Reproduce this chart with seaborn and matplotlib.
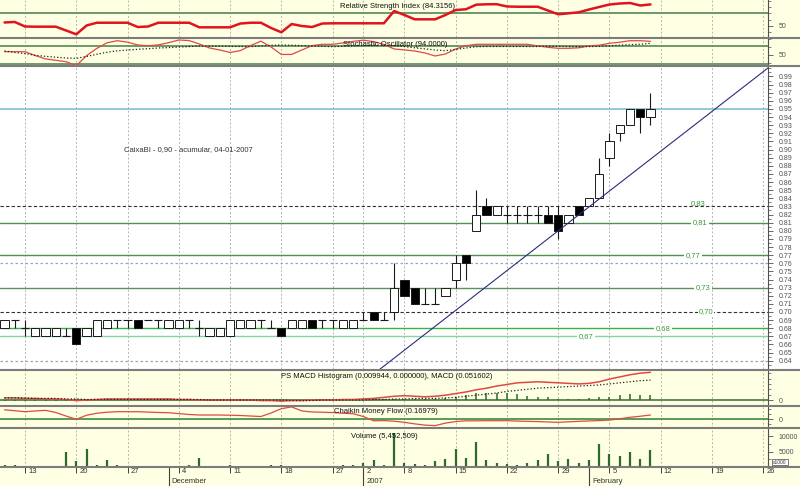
import matplotlib

matplotlib.use("Agg")
import matplotlib.pyplot as plt
import matplotlib.transforms as mtransforms
from matplotlib.lines import Line2D
from matplotlib.patches import Rectangle
from matplotlib.ticker import FixedLocator, FormatStrFormatter, MultipleLocator
import numpy as np
import pandas as pd
import seaborn as sns

# ---- data (one value per trading day, 9 Nov 2006 .. 9 Feb 2007)
START = "2006-11-09"
END = "2007-03-02"
HOLIDAYS = ["2006-12-25", "2006-12-26", "2007-01-01"]

OPEN = [.68, .69, .68, .67, .67, .67, .67, .68, .67, .67, .68, .69, .69, .69, .69, .69,
        .68, .68, .69, .68, .67, .67, .67, .68, .68, .69, .68, .68, .68, .68, .69, .69,
        .69, .68, .68, .69, .70, .69, .70, .74, .73, .71, .71, .72, .74, .77, .80, .83,
        .82, .82, .82, .82, .82, .82, .82, .81, .83, .83, .84, .89, .92, .93, .95, .94]
HIGH = [.69, .69, .69, .68, .68, .68, .68, .68, .68, .69, .69, .69, .69, .69, .69, .69,
        .69, .69, .69, .69, .68, .68, .69, .69, .69, .69, .69, .68, .69, .69, .69, .69,
        .69, .69, .69, .70, .70, .70, .76, .74, .73, .73, .73, .73, .77, .77, .85, .84,
        .83, .83, .83, .83, .83, .83, .83, .82, .83, .84, .89, .92, .93, .95, .95, .97]
LOW = [.68, .68, .67, .67, .67, .67, .67, .66, .67, .67, .68, .68, .68, .68, .69, .68,
       .68, .68, .68, .67, .67, .67, .67, .68, .68, .68, .68, .67, .68, .68, .68, .68,
       .68, .68, .68, .69, .69, .69, .69, .72, .71, .71, .71, .72, .73, .74, .80, .82,
       .82, .81, .81, .81, .81, .81, .79, .81, .82, .83, .84, .88, .91, .93, .92, .93]
CLOSE = [.69, .69, .68, .68, .68, .68, .67, .66, .68, .69, .69, .69, .69, .68, .69, .69,
         .69, .69, .69, .68, .68, .68, .69, .69, .69, .69, .68, .67, .69, .69, .68, .69,
         .69, .69, .69, .69, .69, .69, .73, .72, .71, .71, .71, .73, .76, .76, .82, .82,
         .83, .82, .82, .82, .82, .81, .80, .82, .82, .84, .87, .91, .93, .95, .94, .95]

VOLUME = [700, 800, 300, 200, 250, 300, 4800, 1900, 5900, 500, 2400, 700, 200, 300,
          250, 200, 250, 300, 700, 3000, 300, 250, 700, 200, 300, 250, 700, 500, 300,
          250, 400, 200, 300, 500, 700, 1250, 2300, 700, 11000, 1250, 900, 700, 2000,
          2700, 5900, 3000, 8100, 2300, 1250, 1000, 700, 1250, 2300, 4300, 2000, 2700,
          1250, 2300, 7500, 4300, 3500, 4800, 2700, 5453]

RSI = [55.2, 56.0, 48.7, 48.4, 48.4, 48.4, 42.3, 36.1, 50.3, 54.8, 54.8, 54.8, 54.8,
       47.9, 48.7, 54.8, 54.8, 54.8, 54.8, 47.4, 47.4, 47.4, 47.4, 53.5, 54.8, 54.8,
       46.3, 39.4, 52.7, 49.5, 47.9, 53.5, 53.9, 53.9, 53.9, 53.9, 53.9, 53.9, 73.7,
       67.3, 60.3, 60.3, 60.3, 67.3, 75.3, 76.5, 83.9, 84.5, 84.7, 81.0, 80.6, 80.6,
       80.6, 74.5, 68.4, 70.0, 71.6, 76.1, 80.2, 84.2, 85.8, 86.6, 82.6, 84.3]

STOCH_K = [60.6, 60.6, 60.6, 48.1, 37.4, 32.9, 28.4, 15.5, 47.7, 71.3, 89.4, 96.1, 91.3,
           82.3, 79.7, 82.6, 89.7, 98.4, 96.5, 85.5, 72.6, 66.1, 58.1, 64.2, 80.6, 94.5,
           75.8, 51.6, 51.9, 66.1, 80.3, 84.5, 84.5, 88.7, 93.9, 97.7, 93.2, 84.2, 69.4,
           66.5, 62.9, 56.5, 46.8, 53.2, 69.4, 79.7, 84.5, 84.5, 84.5, 84.5, 84.5, 84.5,
           79.4, 74.8, 71.6, 71.6, 73.2, 79.4, 81.6, 87.7, 91.3, 96.1, 96.1, 94.0]
STOCH_D = [63.1, 58.4, 54.5, 49.0, 45.8, 42.8, 40.3, 39.3, 45.2, 52.3, 58.7, 63.5, 66.1,
           68.4, 70.3, 72.6, 73.9, 75.5, 77.1, 78.7, 78.7, 78.4, 77.7, 77.4, 76.8, 79.4,
           81.3, 82.3, 81.3, 80.3, 79.0, 78.1, 76.8, 78.1, 79.4, 80.6, 81.6, 81.9, 79.7,
           77.1, 73.2, 69.7, 66.1, 63.9, 67.7, 72.6, 76.8, 77.4, 77.4, 77.4, 77.4, 77.4,
           77.4, 78.4, 78.1, 77.1, 77.1, 77.1, 77.7, 79.7, 81.6, 82.9, 84.8, 87.7]

MACD = [0.004, 0.004, 0.003, 0.003, 0.002, 0.002, 0.001, -0.001, 0.0, 0.001, 0.002,
        0.002, 0.002, 0.002, 0.002, 0.002, 0.002, 0.001, 0.001, 0.0, 0.0, 0.0, 0.0,
        0.0, 0.0, -0.001, -0.001, -0.002, -0.001, -0.001, 0.0, 0.0, 0.0, 0.001, 0.001,
        0.002, 0.003, 0.005, 0.007, 0.008, 0.007, 0.006, 0.007, 0.009, 0.012, 0.015,
        0.019, 0.022, 0.026, 0.029, 0.032, 0.033, 0.034, 0.033, 0.032, 0.031, 0.030,
        0.031, 0.034, 0.039, 0.043, 0.047, 0.050, 0.0516]
MACD_SIGNAL = [0.004, 0.004, 0.004, 0.003, 0.003, 0.003, 0.002, 0.002, 0.001, 0.001,
               0.001, 0.001, 0.001, 0.001, 0.001, 0.001, 0.001, 0.001, 0.001, 0.001,
               0.0, 0.0, 0.0, 0.0, 0.0, 0.0, 0.0, 0.0, -0.001, -0.001, -0.001, 0.0, 0.0,
               0.0, 0.0, 0.0, 0.001, 0.001, 0.002, 0.002, 0.003, 0.003, 0.003, 0.004,
               0.005, 0.007, 0.009, 0.011, 0.013, 0.016, 0.018, 0.020, 0.022, 0.023,
               0.024, 0.025, 0.026, 0.027, 0.028, 0.030, 0.032, 0.034, 0.036, 0.037]
MACD_HIST = [-0.001, -0.001, -0.0015, -0.001, -0.001, -0.0015, -0.001, -0.002, -0.001,
             0.0005, 0.001, 0.001, 0.001, 0.001, 0.001, 0.001, 0.001, 0.0005, 0.0005,
             -0.0005, -0.0005, -0.0005, -0.0005, -0.0005, -0.0005, -0.001, -0.001,
             -0.0015, -0.0005, -0.0005, 0.0005, 0.0005, 0.0005, 0.001, 0.001, 0.001,
             0.001, 0.001, 0.002, 0.002, 0.001, 0.001, 0.002, 0.003, 0.006, 0.009,
             0.0137, 0.0137, 0.013, 0.0124, 0.0106, 0.0075, 0.0062, 0.005, 0.002,
             0.002, 0.002, 0.004, 0.005, 0.006, 0.0093, 0.011, 0.0093, 0.0099]

CMF = [0.375, 0.34, 0.30, 0.33, 0.355, 0.27, 0.13, 0.0, 0.16, 0.24, 0.28, 0.30, 0.30,
       0.30, 0.285, 0.27, 0.26, 0.225, 0.19, 0.17, 0.17, 0.17, 0.16, 0.15, 0.13, 0.11,
       0.25, 0.42, 0.49, 0.33, 0.29, 0.28, 0.265, 0.24, 0.22, 0.11, -0.06, -0.05,
       -0.075, -0.12, -0.18, -0.23, -0.25, -0.15, -0.09, -0.06, -0.06, -0.055, -0.055,
       -0.055, -0.07, -0.08, -0.09, -0.105, -0.12, -0.10, -0.08, -0.065, -0.05, -0.03,
       0.02, 0.08, 0.12, 0.17]

LEVELS = [0.95, 0.83, 0.81, 0.77, 0.73, 0.70, 0.68, 0.67]
LEVEL_LABELS = ["", "0,83", "0,81", "0,77", "0,73", "0,70", "0,68", "0,67"]
TREND_ANCHORS = [("2007-01-29", 0.800), ("2007-02-05", 0.849)]
NOTE = "CaixaBI - 0,90 - acumular, 04-01-2007"

TITLES = {
    "rsi": "Relative Strength Index (84.3156)",
    "stoch": "Stochastic Oscillator (94.0000)",
    "macd": "PS MACD Histogram (0.009944, 0.000000), MACD (0.051602)",
    "cmf": "Chaikin Money Flow (0.16979)",
    "vol": "Volume (5,452,509)",
}

# ---- layout (pixels of the 800x486 picture)
W, H = 800, 486
PLOT_W = 768
XMIN, XMAX = -0.44, 74.46
BG = "#ffffe3"
GRID = "#b4b4b4"
RED = "#e04848"
SEP = "#7c7c7c"


def px_to_x(px):
    return XMIN + px / PLOT_W * (XMAX - XMIN)


def trading_days():
    days = pd.bdate_range(START, END)
    return days[~days.isin(pd.to_datetime(HOLIDAYS))]


def make_panel(fig, top, bottom, week_x, face=BG):
    ax = fig.add_axes([0, 1 - bottom / H, PLOT_W / W, (bottom - top) / H])
    ax.set_facecolor(face)
    ax.set_xlim(XMIN, XMAX)
    ax.set_xticks([])
    for name, spine in ax.spines.items():
        spine.set_visible(name == "right")
    ax.spines["right"].set_color("#505050")
    ax.spines["right"].set_linewidth(0.8)
    ax.yaxis.tick_right()
    ax.tick_params(axis="y", which="major", direction="out", length=3.5, width=0.6,
                   colors="#505050", labelsize=5, pad=4)
    ax.tick_params(axis="y", which="minor", direction="out", length=2, width=0.5,
                   colors="#505050")
    for xv in week_x:
        ax.axvline(xv, color=GRID, lw=0.7, ls=(0, (2, 2)), zorder=0)
    ax.grid(False)
    return ax


def draw_candles(ax, x):
    opens = np.array(OPEN)
    closes = np.array(CLOSE)
    ax.vlines(x, LOW, HIGH, color="#1a1a1a", lw=0.8, zorder=3)
    body = closes - opens
    flat = np.isclose(body, 0)
    colors = np.where(body > 0, "white", "black")
    ax.bar(x[~flat], np.abs(body[~flat]), bottom=np.minimum(opens, closes)[~flat],
           width=0.8, color=colors[~flat], edgecolor="#1a1a1a", linewidth=0.7, zorder=4)
    ax.hlines(closes[flat], x[flat] - 0.4, x[flat] + 0.4, color="#1a1a1a", lw=0.8, zorder=4)


def main():
    sns.set_theme(style="white")
    plt.rcParams["font.family"] = ["Liberation Sans Narrow", "Liberation Sans", "DejaVu Sans"]

    days = trading_days()
    pos = {d: i for i, d in enumerate(days)}
    x = np.arange(len(OPEN))

    week_x, week_lab, month_x, month_lab = [], [], [], []
    for i in range(1, len(days)):
        if i > XMAX:
            break
        if days[i].isocalendar()[1] != days[i - 1].isocalendar()[1]:
            week_x.append(i)
            week_lab.append(str(days[i].day))
        if days[i].month != days[i - 1].month:
            month_x.append(i)
            month_lab.append(str(days[i].year) if days[i].month == 1 else days[i].strftime("%B"))

    fig = plt.figure(figsize=(W / 100, H / 100), dpi=100)
    fig.patch.set_facecolor(BG)
    fig.patches.append(Rectangle((PLOT_W / W, 1 - 369 / H), 1 - PLOT_W / W, 303 / H,
                                 transform=fig.transFigure, facecolor="white",
                                 edgecolor="none", zorder=-1))

    # RSI
    ax = make_panel(fig, 0, 37.5, week_x)
    ax.set_ylim(30.97, 91.45)
    ax.axhline(70, color="#5f935f", lw=1.3, zorder=1)
    sns.lineplot(x=x, y=RSI, ax=ax, color="#e0141e", linewidth=1.8, zorder=3)
    ax.yaxis.set_major_locator(FixedLocator([50]))
    ax.yaxis.set_minor_locator(MultipleLocator(10))
    ax.set_ylabel("")

    # Stochastic
    ax = make_panel(fig, 38.5, 66, week_x)
    ax.set_ylim(14.5, 103.2)
    for lvl in (80, 20):
        ax.axhline(lvl, color="#5f935f", lw=1.3, zorder=1)
    sns.lineplot(x=x, y=STOCH_K, ax=ax, color=RED, linewidth=0.9, zorder=3)
    sns.lineplot(x=x, y=STOCH_D, ax=ax, color="#202020", linewidth=0.9, linestyle=":", zorder=3)
    ax.yaxis.set_major_locator(FixedLocator([50]))
    ax.yaxis.set_minor_locator(MultipleLocator(25))
    ax.set_ylabel("")

    # Price
    ax = make_panel(fig, 66.5, 369, week_x, face="white")
    ax.set_ylim(0.6298, 1.0023)
    for lvl in (0.76, 0.64):
        ax.axhline(lvl, color="#97a6b8", lw=0.9, ls=(0, (2, 2)), zorder=1)
    level_styles = [
        dict(color="#8cc3d4", lw=1.3, ls="-"),
        dict(color="#303030", lw=0.8, ls=(0, (3, 2))),
        dict(color="#4f8f4f", lw=1.0, ls="-"),
        dict(color="#4f8f4f", lw=1.0, ls="-"),
        dict(color="#5a935a", lw=1.0, ls="-"),
        dict(color="#303030", lw=0.8, ls=(0, (3, 2))),
        dict(color="#3cb043", lw=1.0, ls="-"),
        dict(color="#86d4a4", lw=1.0, ls="-"),
    ]
    label_px = [None, 698, 700, 693, 703, 706, 663, 586]
    for lvl, lab, style, lpx in zip(LEVELS, LEVEL_LABELS, level_styles, label_px):
        ax.axhline(lvl, zorder=2, **style)
        if lab:
            ax.text(px_to_x(lpx), lvl + (0.0035 if lab == "0,83" else 0), lab,
                    ha="center", va="center", fontsize=5.5, color="#3a9a3a", zorder=3,
                    bbox=dict(boxstyle="square,pad=0.15", facecolor="white",
                              edgecolor="none") if lab != "0,83" else None)
    draw_candles(ax, x)
    (d1, p1), (d2, p2) = TREND_ANCHORS
    ax.axline((pos[pd.Timestamp(d1)], p1), (pos[pd.Timestamp(d2)], p2),
              color="#2c2c78", lw=0.8, zorder=5)
    ax.text(px_to_x(188), 0.8995, NOTE, ha="center", va="center", fontsize=5.5,
            color="#333333", zorder=6)
    ax.yaxis.set_major_locator(FixedLocator(np.round(np.arange(0.64, 0.995, 0.01), 2)))
    ax.yaxis.set_major_formatter(FormatStrFormatter("%.2f"))
    ax.yaxis.set_minor_locator(MultipleLocator(0.005))

    # MACD
    ax = make_panel(fig, 370, 405.5, week_x)
    ax.set_ylim(-0.0102, 0.0559)
    ax.axhline(0, color="#2f6f2f", lw=1.1, zorder=1)
    ax.vlines(x, 0, MACD_HIST, color="#2a6a2a", lw=1.1, zorder=2)
    sns.lineplot(x=x, y=MACD, ax=ax, color=RED, linewidth=1.1, zorder=3)
    sns.lineplot(x=x, y=MACD_SIGNAL, ax=ax, color="#202020", linewidth=0.9, linestyle=":", zorder=3)
    ax.yaxis.set_major_locator(FixedLocator([0]))
    ax.yaxis.set_major_formatter(FormatStrFormatter("%d"))
    ax.yaxis.set_minor_locator(MultipleLocator(0.01))
    ax.set_ylabel("")

    # Chaikin Money Flow
    ax = make_panel(fig, 406.5, 427.5, week_x)
    ax.set_ylim(-0.324, 0.506)
    ax.axhline(0, color="#3d8a3d", lw=1.2, zorder=1)
    sns.lineplot(x=x, y=CMF, ax=ax, color=RED, linewidth=0.9, zorder=3)
    ax.yaxis.set_major_locator(FixedLocator([0]))
    ax.yaxis.set_major_formatter(FormatStrFormatter("%d"))
    ax.yaxis.set_minor_locator(MultipleLocator(0.2))
    ax.set_ylabel("")

    # Volume (thousands)
    ax = make_panel(fig, 428, 467, week_x)
    ax.set_ylim(0, 12660)
    ax.vlines(x, 0, VOLUME, color="#2d6a2d", lw=1.6, zorder=2)
    ax.yaxis.set_major_locator(FixedLocator([5000, 10000]))
    ax.yaxis.set_major_formatter(FormatStrFormatter("%d"))
    ax.yaxis.set_minor_locator(MultipleLocator(2500))
    fig.text(780 / W, 1 - 462 / H, "x1000", fontsize=3.5, ha="center", va="center",
             color="#333333", bbox=dict(boxstyle="square,pad=0.2", facecolor="white",
                                        edgecolor="#444444", linewidth=0.5))

    # date strip
    ax = fig.add_axes([0, 0, PLOT_W / W, 19 / H])
    ax.set_facecolor(BG)
    ax.set_xlim(XMIN, XMAX)
    ax.set_ylim(0, 1)
    ax.axis("off")
    ax.vlines(week_x, 1 - 6 / 19, 1, color="#404040", lw=0.7)
    ax.vlines(month_x, 0, 1, color="#404040", lw=0.8)
    blend = mtransforms.blended_transform_factory(ax.transData, ax.transAxes)
    shifted = mtransforms.offset_copy(blend, fig=fig, x=3, y=0, units="dots")
    for xv, lab in zip(week_x, week_lab):
        ax.text(xv, 0.78, lab, transform=shifted, ha="left", va="center",
                fontsize=5.5, color="#303030")
    for xv, lab in zip(month_x, month_lab):
        ax.text(xv, 0.22, lab, transform=shifted, ha="left", va="center",
                fontsize=5.5, color="#303030")

    # panel titles
    title_pos = {"rsi": (397, 7), "stoch": (395, 45), "macd": (387, 376),
                 "cmf": (386, 411), "vol": (384, 436)}
    for key, (tx, ty) in title_pos.items():
        fig.text(tx / W, 1 - ty / H, TITLES[key], ha="center", va="center",
                 fontsize=5.5, color="#111111")

    # panel separators
    for sy in (38, 66.2, 369.5, 406, 427.8, 467):
        fig.add_artist(Line2D([0, 1], [1 - sy / H, 1 - sy / H], transform=fig.transFigure,
                              color=SEP, lw=1.5))

    fig.savefig("out.png", dpi=100, facecolor=fig.get_facecolor())
    plt.close(fig)


if __name__ == "__main__":
    main()
